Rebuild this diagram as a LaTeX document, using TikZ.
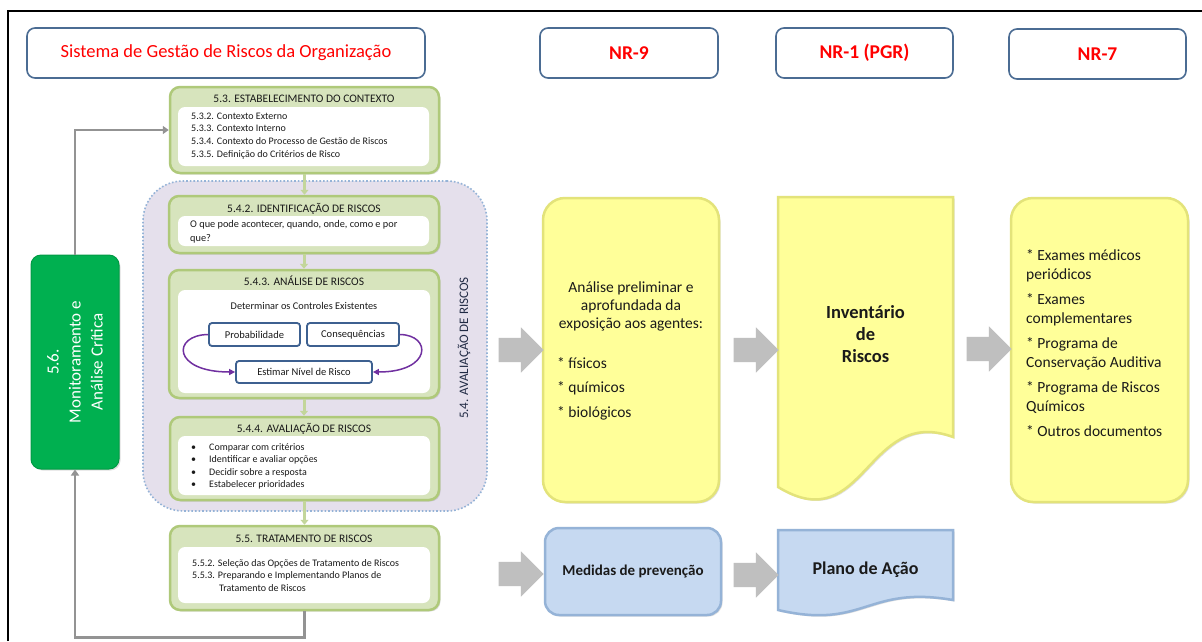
\documentclass[tikz,border=0pt]{standalone}
\usepackage{fontspec}
\setmainfont{Carlito}
\usetikzlibrary{shapes.arrows,arrows.meta,shadows}
\newcommand\fsz[2]{\fontsize{#1}{#2}\selectfont}

\definecolor{hdrline}{HTML}{4B6C93}
\definecolor{lav}{HTML}{E5E0EC}
\definecolor{lavline}{HTML}{95B3D7}
\definecolor{grnfill}{HTML}{D7E4BD}
\definecolor{grnedge}{HTML}{AFC97A}
\definecolor{grnlink}{HTML}{C3D69B}
\definecolor{ylw}{HTML}{FFFF99}
\definecolor{ylwedge}{HTML}{E3E37A}
\definecolor{blu}{HTML}{C6D9F1}
\definecolor{bluedge}{HTML}{95B3D7}
\definecolor{mongreen}{HTML}{00B050}
\definecolor{mongreenedge}{HTML}{009A44}
\definecolor{blockgray}{HTML}{BFBFBF}
\definecolor{loopgray}{HTML}{939393}
\definecolor{factorline}{HTML}{3D6090}
\definecolor{purp}{HTML}{7030A0}
\definecolor{zonetext}{HTML}{202A44}
\definecolor{bodytext}{HTML}{1A1A1A}

\tikzset{
  hdrbox/.style={draw=hdrline, line width=1.6pt, rounded corners=8pt, fill=white,
    minimum height=50pt, inner sep=0pt, text=red},
  softshadow/.style={drop shadow={opacity=0.25, shadow xshift=1.5pt, shadow yshift=-1.5pt}},
  stagebox/.style={draw=grnedge, fill=grnfill, line width=2.5pt, rounded corners=10pt,
    inner sep=0pt, softshadow},
  panelbox/.style={fill=white, rounded corners=7pt, inner sep=0pt},
  stagetitle/.style={anchor=base, inner sep=0pt, font=\fsz{11.5}{13}, text=bodytext},
  % multi-line texts are anchored at the baseline of their last line
  paneltext/.style={anchor=base west, inner sep=0pt, align=left, text=bodytext},
  factorbox/.style={draw=factorline, line width=1.8pt, rounded corners=3pt, fill=white,
    inner sep=0pt, font=\fsz{10.5}{12}, text=bodytext},
  flowlink/.style={draw=grnlink, line width=3pt, -{Triangle[width=8pt,length=5pt]}},
  looplink/.style={draw=loopgray, line width=2.5pt, -{Triangle[width=8pt,length=6pt]}},
  purplelink/.style={draw=purp, line width=1.5pt, -{Triangle[width=6pt,length=6pt]}},
  blockarrow/.style={single arrow, fill=blockgray, inner sep=12pt, minimum height=45pt,
    single arrow head extend=10.5pt, single arrow head indent=0pt},
  ylwbox/.style={draw=ylwedge, fill=ylw, line width=2.5pt, inner sep=0pt, softshadow},
  blubox/.style={draw=bluedge, fill=blu, line width=2.5pt, inner sep=0pt, softshadow},
  bodyfont/.style={inner sep=0pt, text=bodytext}
}

\begin{document}
\begin{tikzpicture}[x=1pt,y=-1pt]
\useasboundingbox (0,0) rectangle (1202,641);
\fill[white] (0,0) rectangle (1202,641);

% outer frame
\draw[line width=1.2pt] (8,641) -- (8,11) -- (1202,11);

% column headers
\node[hdrbox, minimum width=398pt, font=\fsz{18.5}{22}] (hsys) at (226,53)
  {Sistema de Gestão de Riscos da Organização};
\node[hdrbox, minimum width=178pt, font=\bfseries\fsz{19.5}{22}] (hnr9) at (629,53) {NR-9};
\node[hdrbox, minimum width=177pt, font=\bfseries\fsz{19.5}{22}] (hnr1) at (864.5,53) {NR-1 (PGR)};
\node[hdrbox, minimum width=177pt, font=\bfseries\fsz{19.5}{22}] (hnr7) at (1097.5,54) {NR-7};

% risk assessment zone
\node[draw=lavline, dotted, line width=1.6pt, fill=lav, rounded corners=40pt,
  minimum width=344pt, minimum height=330pt, inner sep=0pt] (zone) at (315,346) {};
\node[rotate=90, font=\fsz{13}{15}, text=zonetext, inner sep=0pt] (zonelabel) at (464,348)
  {5.4. AVALIAÇÃO DE RISCOS};

% monitoring and review
\node[draw=mongreenedge, fill=mongreen, line width=1pt, rounded corners=10pt,
  minimum width=88pt, minimum height=214pt, inner sep=0pt, softshadow] (mon) at (75,362) {};
\node[rotate=90, align=center, text=white, font=\fsz{17}{22}, inner sep=0pt] (montext) at (75,362)
  {5.6.\\Monitoramento e\\Análise Crítica};

% 5.3 context
\node[stagebox, minimum width=269pt, minimum height=86pt] (s53) at (304.5,130) {};
\node[panelbox, minimum width=251pt, minimum height=59pt] (s53p) at (303.5,136.5) {};
\node[stagetitle] (s53t) at (304,102) {5.3. ESTABELECIMENTO DO CONTEXTO};
\node[paneltext, font=\fsz{10}{12.8}] (s53x) at (191,157.4)
  {5.3.2. Contexto Externo\\5.3.3. Contexto Interno\\5.3.4. Contexto do Processo de Gestão de Riscos\\5.3.5. Definição do Critérios de Risco};

% 5.4.2 identification
\node[stagebox, minimum width=270pt, minimum height=57pt] (s542) at (304,224.5) {};
\node[panelbox, minimum width=251pt, minimum height=30pt] (s542p) at (303.5,231) {};
\node[stagetitle] (s542t) at (304,212) {5.4.2. IDENTIFICAÇÃO DE RISCOS};
\node[paneltext, font=\fsz{10.3}{14}] (s542x) at (190,241)
  {O que pode acontecer, quando, onde, como e por\\que?};

% 5.4.3 analysis
\node[stagebox, minimum width=270pt, minimum height=128pt] (s543) at (304,334) {};
\node[panelbox, minimum width=252pt, minimum height=103pt] (s543p) at (304,341.5) {};
\node[stagetitle] (s543t) at (304,285) {5.4.3. ANÁLISE DE RISCOS};
\node[bodyfont, anchor=base, font=\fsz{10.3}{12}] (s543x) at (304,309.5) {Determinar os Controles Existentes};
\node[factorbox, minimum width=91pt, minimum height=23pt] (prob) at (254.5,334.5) {Probabilidade};
\node[factorbox, minimum width=92pt, minimum height=23pt] (cons) at (353,334.5) {Consequências};
\node[factorbox, minimum width=136pt, minimum height=22pt] (est) at (304,372) {Estimar Nível de Risco};
\draw[purplelink] (prob.west) .. controls (172,335) and (172,372) .. (est.west);
\draw[purplelink] (cons.east) .. controls (432,335) and (432,372) .. (est.east);

% 5.4.4 evaluation
\node[stagebox, minimum width=269pt, minimum height=83pt] (s544) at (304.5,458.5) {};
\node[panelbox, minimum width=252pt, minimum height=59pt] (s544p) at (304,465.5) {};
\node[stagetitle] (s544t) at (304,432) {5.4.4. AVALIAÇÃO DE RISCOS};
\node[paneltext, font=\fsz{10}{12.5}] (s544x) at (191,487.5)
  {\makebox[18pt][l]{\textbullet}Comparar com critérios\\
   \makebox[18pt][l]{\textbullet}Identificar e avaliar opções\\
   \makebox[18pt][l]{\textbullet}Decidir sobre a resposta\\
   \makebox[18pt][l]{\textbullet}Estabelecer prioridades};

% 5.5 treatment
\node[stagebox, minimum width=269pt, minimum height=84pt] (s55) at (304.5,568) {};
\node[panelbox, minimum width=252pt, minimum height=56pt] (s55p) at (304,575) {};
\node[stagetitle] (s55t) at (304,542) {5.5. TRATAMENTO DE RISCOS};
\node[paneltext, font=\fsz{10}{12.5}] (s55x) at (192,591)
  {5.5.2. Seleção das Opções de Tratamento de Riscos\\5.5.3. Preparando e Implementando Planos de\\\hspace*{27pt}Tratamento de Riscos};

% process flow
\draw[flowlink] (s53.south) -- (s53.south |- s542.north);
\draw[flowlink] (s542.south) -- (s542.south |- s543.north);
\draw[flowlink] (s543.south) -- (s543.south |- s544.north);
\draw[flowlink] (s544.south) -- (s544.south |- s55.north);

% monitoring feedback loop
\draw[looplink] (mon.north) |- (s53.west);
\draw[looplink] (s55.south) -- ++(0,26) -| (mon.south);

% NR-9 exposure analysis
\node[ylwbox, rounded corners=22pt, minimum width=176pt, minimum height=304pt] (nr9box) at (631,350) {};
\node[bodyfont, anchor=base, align=center, font=\fsz{15.5}{18}] (nr9head) at (631,328)
  {Análise preliminar e\\aprofundada da\\exposição aos agentes:};
\node[bodyfont, anchor=base west, align=left, font=\fsz{15.5}{24.5}] (nr9list) at (557,417)
  {* físicos\\* químicos\\* biológicos};

% NR-1 risk inventory (document shape)
\path[draw=ylwedge, fill=ylw, line width=2.5pt, softshadow]
  (778,197) -- (953,197) -- (953,437) .. controls (866,405) and (865,540) .. (778,487) -- cycle;
\node[bodyfont, anchor=base, align=center, font=\bfseries\fsz{18.5}{22}] (invtext) at (865.5,362)
  {Inventário\\de\\Riscos};

% NR-7 programmes
\node[ylwbox, rounded corners=22pt, minimum width=177pt, minimum height=304pt] (nr7box) at (1099.5,350) {};
\node[bodyfont, anchor=base west, align=left, font=\fsz{15.5}{19}] (nr7list) at (1026,436)
  {* Exames médicos\\periódicos\\[6pt]* Exames\\complementares\\[6pt]* Programa de\\Conservação Auditiva\\[6pt]* Programa de Riscos\\Químicos\\[6pt]* Outros documentos};

% prevention and action plan
\node[blubox, rounded corners=14pt, minimum width=176pt, minimum height=87pt,
  font=\bfseries\fsz{15}{18}, text=bodytext] (medidas) at (633,571.5) {Medidas de prevenção};
\path[draw=bluedge, fill=blu, line width=2.5pt, softshadow]
  (778,530) -- (953,530) -- (953,600) .. controls (866,585) and (865,630) .. (778,610) -- cycle;
\node[bodyfont, font=\bfseries\fsz{18}{21}] (planotext) at (865.5,570) {Plano de Ação};

% block arrows between columns
\node[blockarrow] (arr1) at (515,350) {};
\node[blockarrow] (arr2) at (750,350) {};
\node[blockarrow] (arr3) at (983,349) {};
\node[blockarrow] (arr4) at (515,574) {};
\node[blockarrow] (arr5) at (750,575) {};
\end{tikzpicture}
\end{document}
